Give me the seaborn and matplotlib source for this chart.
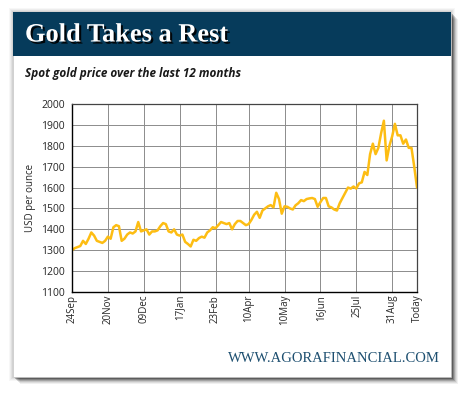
import numpy as np
import pandas as pd
import seaborn as sns
import matplotlib
matplotlib.use("Agg")
import matplotlib.pyplot as plt
from matplotlib.patches import Rectangle
import matplotlib.patheffects as pe

# spot gold price, read every ~2 trading days
prices = [1300, 1310, 1315, 1320, 1345, 1330, 1355, 1385, 1370, 1345,
          1340, 1335, 1345, 1365, 1355, 1410, 1420, 1415, 1345, 1355,
          1375, 1385, 1380, 1390, 1435, 1390, 1395, 1400, 1375, 1390,
          1390, 1395, 1415, 1430, 1425, 1390, 1385, 1400, 1375, 1370,
          1375, 1340, 1330, 1318, 1350, 1345, 1358, 1365, 1360, 1385,
          1395, 1410, 1405, 1420, 1435, 1430, 1425, 1430, 1400, 1425,
          1440, 1440, 1430, 1420, 1425, 1445, 1470, 1484, 1455, 1490,
          1500, 1510, 1516, 1505, 1575, 1545, 1475, 1510, 1508, 1500,
          1495, 1515, 1525, 1540, 1535, 1545, 1548, 1550, 1545, 1508,
          1530, 1550, 1550, 1510, 1505, 1495, 1490, 1525, 1550, 1575,
          1600, 1595, 1605, 1595, 1620, 1625, 1675, 1660, 1760, 1810,
          1760, 1790, 1860, 1920, 1730, 1800, 1845, 1905, 1850, 1850,
          1810, 1830, 1790, 1790, 1700, 1600]
days = list(range(len(prices)))

tick_pos = [0, 13, 26, 39, 52, 64, 77, 90, 103, 116, 125]
tick_labels = ['24Sep', '20Nov', '09Dec', '17Jan', '23Feb', '10Apr',
               '10May', '16Jun', '25Jul', '31Aug', 'Today']
y_ticks = list(range(1100, 2001, 100))

df = pd.DataFrame({'day': days, 'price': prices})

sns.set_style("white")
plt.rcParams['font.family'] = ['Open Sans', 'DejaVu Sans']

fig = plt.figure(figsize=(4.7, 3.95), dpi=100)
fig.patch.set_facecolor('white')

# card with drop shadow
W, H = 470, 395
def rect(x0, y0, x1, y1, **kw):
    fig.patches.append(Rectangle((x0 / W, 1 - y1 / H), (x1 - x0) / W, (y1 - y0) / H,
                                 transform=fig.transFigure, figure=fig, **kw))

# faint shadow around the card, stronger to the lower right
for i, a in enumerate([0.03, 0.04, 0.05, 0.06]):
    g = 4 - i
    rect(13 - g, 12 - g, 451 + g, 377 + g, facecolor='black', alpha=a,
         edgecolor='none', zorder=0)
for i, a in enumerate([0.06, 0.08, 0.1, 0.14, 0.18, 0.24, 0.3]):
    off = 7 - i
    rect(13 + off, 12 + off, 451 + off, 377 + off, facecolor='black', alpha=a,
         edgecolor='none', zorder=0)
rect(13, 12, 451, 377, facecolor='white', edgecolor='#c8c8c8', linewidth=0.5, zorder=1)
rect(13, 12, 451, 56, facecolor='#063b5b', edgecolor='none', zorder=2)

fig.text(25 / W, 1 - 35 / H, 'Gold Takes a Rest', color='white', fontsize=19,
         fontweight='bold', family='Liberation Serif', va='center', ha='left', zorder=3,
         path_effects=[pe.withSimplePatchShadow(offset=(1.5, -1.5), shadow_rgbFace='black', alpha=0.9)])
fig.text(25 / W, 1 - 73 / H, 'Spot gold price over the last 12 months', color='#1a1a1a',
         fontsize=8.5, fontweight='bold', fontstyle='italic', va='center', ha='left', zorder=3)
fig.text(440 / W, 1 - 358 / H, 'WWW.AGORAFINANCIAL.COM', color='#1d4f70', fontsize=10.5,
         family='Liberation Serif', va='center', ha='right', zorder=3)

ax = fig.add_axes([72 / W, 1 - 292 / H, 345 / W, 188 / H], zorder=4)
ax.set_facecolor('white')
sns.lineplot(data=df, x='day', y='price', ax=ax, color='#fdbd13', linewidth=1.8)

ax.set_xlim(0, len(prices) - 1)
ax.set_ylim(1100, 2000)
ax.set_xticks(tick_pos)
ax.set_xticklabels(tick_labels, rotation=90, fontsize=7)
ax.set_yticks(y_ticks)
ax.set_yticklabels([str(v) for v in y_ticks], fontsize=7.5)
ax.grid(True, color='#8c8c8c', linewidth=0.7)
ax.set_axisbelow(True)
ax.tick_params(axis='both', length=3, width=0.7, color='black', pad=2)
ax.tick_params(axis='x', length=0)
ax.set_xlabel('')
ax.set_ylabel('USD per ounce', fontsize=7, labelpad=4)
for side in ['left', 'bottom']:
    ax.spines[side].set_color('black')
    ax.spines[side].set_linewidth(1.0)
for side in ['top', 'right']:
    ax.spines[side].set_color('#444444')
    ax.spines[side].set_linewidth(0.9)

fig.savefig('out.png', dpi=100)
